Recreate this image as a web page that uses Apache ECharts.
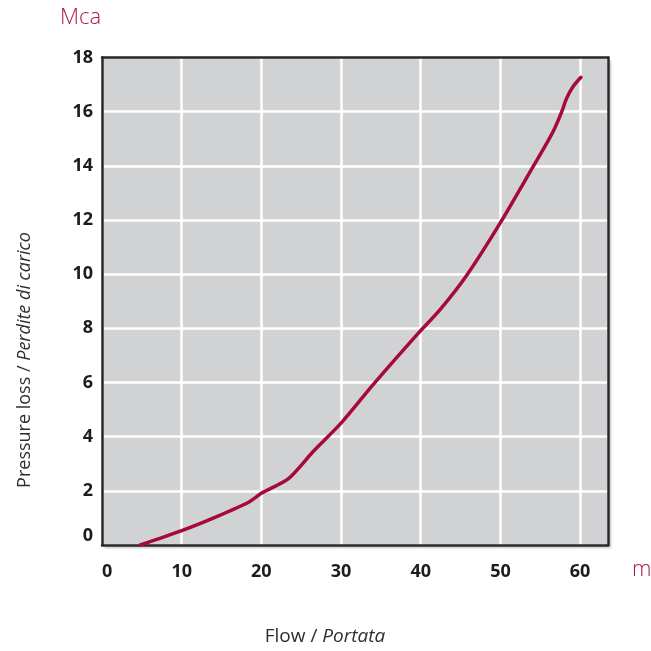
<!DOCTYPE html>
<html>
<head>
<meta charset="utf-8">
<script src="https://cdn.jsdelivr.net/npm/echarts@6/dist/echarts.min.js"></script>
<style>
html,body{margin:0;padding:0;background:#fff;}
#chart{width:651px;height:651px;}
</style>
</head>
<body>
<div id="chart"></div>
<script>
// Data
var flow = [4.8, 10, 14.4, 18.4, 20, 23.4, 26.5, 30, 34, 39.7, 42.4, 45.8, 50, 54.1, 55.8, 56.8, 57.7, 58.3, 59.1, 60.1];
var pressureLoss = [0, 0.53, 1.05, 1.58, 1.91, 2.45, 3.45, 4.5, 5.91, 7.82, 8.68, 9.97, 11.9, 13.97, 14.83, 15.38, 16.0, 16.49, 16.92, 17.27];
var xTicks = [0, 10, 20, 30, 40, 50, 60];
var yTicks = [0, 2, 4, 6, 8, 10, 12, 14, 16, 18];

var points = flow.map(function (x, i) { return [x, pressureLoss[i]]; });

var chart = echarts.init(document.getElementById('chart'), null, {renderer: 'canvas'});
var red = '#a60a3c';
var borderLine = {show: true, onZero: false, lineStyle: {color: '#262626', width: 2.5}};
var labelFont = {color: '#1e1b1c', fontSize: 18, fontWeight: 'bold', fontFamily: 'Open Sans'};

chart.setOption({
  animation: false,
  grid: {
    left: 102, right: 43, top: 57.5, bottom: 106,
    show: true,
    backgroundColor: '#d1d2d4',
    borderWidth: 0,
    shadowColor: 'rgba(0,0,0,0.25)',
    shadowBlur: 2,
    shadowOffsetX: 3,
    shadowOffsetY: 3
  },
  xAxis: [{
    type: 'value',
    min: 0, max: 63.5, interval: 10,
    axisLine: borderLine,
    axisTick: {show: false},
    splitLine: {show: true, lineStyle: {color: '#ffffff', width: 2.5}},
    axisLabel: Object.assign({
      margin: 18,
      showMaxLabel: false,
      alignMinLabel: 'left',
      formatter: function (v) { return xTicks.indexOf(v) >= 0 ? String(v) : ''; }
    }, labelFont)
  }, {
    type: 'value', position: 'top',
    min: 0, max: 63.5,
    axisLine: borderLine,
    axisTick: {show: false}, axisLabel: {show: false}, splitLine: {show: false}
  }],
  yAxis: [{
    type: 'value',
    min: 0, max: 18, interval: 2,
    axisLine: borderLine,
    axisTick: {show: false},
    splitLine: {show: true, lineStyle: {color: '#ffffff', width: 2.5}},
    axisLabel: Object.assign({
      margin: 9,
      verticalAlignMinLabel: 'bottom',
      formatter: function (v) { return yTicks.indexOf(v) >= 0 ? String(v) : ''; }
    }, labelFont)
  }, {
    type: 'value', position: 'right',
    min: 0, max: 18,
    axisLine: borderLine,
    axisTick: {show: false}, axisLabel: {show: false}, splitLine: {show: false}
  }],
  series: [{
    type: 'line',
    data: points,
    smooth: 0.25,
    showSymbol: false,
    lineStyle: {color: red, width: 3.5, cap: 'round'},
    z: 5
  }],
  graphic: [
    {type: 'text', left: 60, top: 7, style: {text: 'Mca', fill: '#b0174a', font: '300 22px "Open Sans"'}},
    {type: 'text', left: 632, top: 559, style: {text: 'm', fill: '#b0174a', font: '300 22px "Open Sans"'}},
    {type: 'text', x: 325, y: 637, style: {
      text: '{a|Flow / }{b|Portata}',
      align: 'center', verticalAlign: 'middle',
      rich: {
        a: {fill: '#2e2e2e', fontSize: 19, fontFamily: 'Open Sans'},
        b: {fill: '#2e2e2e', fontSize: 19, fontFamily: 'Open Sans', fontStyle: 'italic'}
      }
    }},
    {type: 'text', x: 25, y: 360, rotation: Math.PI / 2, style: {
      text: '{a|Pressure loss / }{b|Perdite di carico}',
      align: 'center', verticalAlign: 'middle',
      rich: {
        a: {fill: '#2e2e2e', fontSize: 18, fontFamily: 'Open Sans'},
        b: {fill: '#2e2e2e', fontSize: 18, fontFamily: 'Open Sans', fontStyle: 'italic'}
      }
    }}
  ]
});
</script>
</body>
</html>
